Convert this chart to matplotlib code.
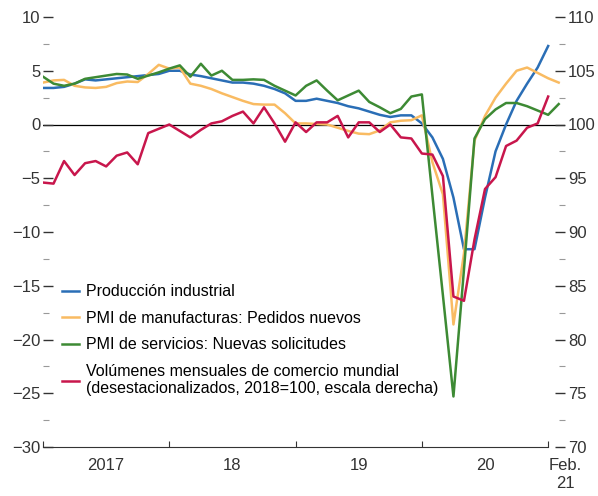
import numpy as np
import matplotlib.pyplot as plt
from matplotlib.ticker import MultipleLocator

plt.rcParams['font.family'] = ['Liberation Sans Narrow', 'Liberation Sans', 'DejaVu Sans']
plt.rcParams['font.size'] = 12

# monthly data, Jan 2017 (index 0) .. Feb 2021 (index 49)
months = np.arange(50)

# Produccion industrial (left scale), through Jan 2021
ind_prod = [3.4, 3.4, 3.5, 3.8, 4.2, 4.1, 4.2, 4.3, 4.4, 4.5, 4.6, 4.7, 5.0, 5.0,
            4.65, 4.5, 4.3, 4.1, 3.9, 3.9, 3.8, 3.6, 3.3, 2.9, 2.2, 2.2, 2.4, 2.2,
            2.0, 1.7, 1.5, 1.2, 0.9, 0.7, 0.85, 0.85, 0.1, -1.2, -3.2, -6.8, -11.6,
            -11.6, -6.8, -2.5, 0.0, 2.2, 3.8, 5.3, 7.3]

# PMI de manufacturas: pedidos nuevos
pmi_manuf = [3.9, 4.1, 4.15, 3.6, 3.45, 3.4, 3.5, 3.85, 4.0, 3.95, 4.7, 5.55, 5.2,
             5.3, 3.8, 3.6, 3.3, 2.9, 2.55, 2.2, 1.9, 1.85, 1.85, 1.05, 0.1, 0.1,
             0.05, 0.0, -0.3, -0.6, -0.85, -0.9, -0.55, 0.2, 0.35, 0.4, 0.85, -3.5,
             -6.5, -18.6, -12.0, -1.5, 0.8, 2.5, 3.8, 5.0, 5.3, 4.8, 4.3, 3.9]

# PMI de servicios: nuevas solicitudes
pmi_serv = [4.45, 3.8, 3.6, 3.8, 4.25, 4.4, 4.55, 4.7, 4.65, 4.25, 4.55, 4.85, 5.2,
            5.5, 4.45, 5.65, 4.55, 5.0, 4.15, 4.15, 4.2, 4.15, 3.6, 3.15, 2.7, 3.6,
            4.1, 3.15, 2.25, 2.7, 3.15, 2.1, 1.6, 1.05, 1.45, 2.6, 2.8, -6.6, -15.9,
            -25.3, -13.5, -1.3, 0.5, 1.4, 2.0, 2.0, 1.7, 1.3, 0.9, 1.9]

# Volumenes mensuales de comercio mundial (2018=100, right scale), through Jan 2021
trade_vol = [94.6, 94.5, 96.6, 95.3, 96.4, 96.6, 96.1, 97.1, 97.4, 96.3, 99.2, 99.6,
             100.0, 99.4, 98.8, 99.5, 100.1, 100.3, 100.8, 101.2, 100.1, 101.6, 100.1,
             98.4, 100.2, 99.3, 100.2, 100.2, 100.8, 98.8, 100.2, 100.2, 99.3, 100.0,
             98.8, 98.7, 97.3, 97.2, 95.2, 84.0, 83.6, 89.3, 94.0, 95.1, 98.0, 98.5,
             99.7, 100.1, 102.6]

year_ticks = [0, 12, 24, 36, 48]
label_pos = [6, 18, 30, 42, 49.6]
label_txt = ['2017', '18', '19', '20', 'Feb.\n21']

labels = ['Producción industrial',
          'PMI de manufacturas: Pedidos nuevos',
          'PMI de servicios: Nuevas solicitudes',
          'Volúmenes mensuales de comercio mundial\n(desestacionalizados, 2018=100, escala derecha)']
colors = ['#2a6eb6', '#f9bb62', '#3d8a34', '#c8164c']

fig = plt.figure(figsize=(5.98, 4.96), dpi=100)
ax = fig.add_axes([43/598, 49/496, 522/598, 430/496])
ax2 = ax.twinx()

l1, = ax.plot(months[:len(ind_prod)], ind_prod, color=colors[0], lw=1.8, label=labels[0])
l2, = ax.plot(months[:len(pmi_manuf)], pmi_manuf, color=colors[1], lw=1.8, label=labels[1])
l3, = ax.plot(months[:len(pmi_serv)], pmi_serv, color=colors[2], lw=1.8, label=labels[2])
l4, = ax2.plot(months[:len(trade_vol)], trade_vol, color=colors[3], lw=1.8, label=labels[3])
ax.axhline(0, color='black', lw=0.9, zorder=1)

ax.set_xlim(0, 49)
ax.set_ylim(-30, 10)
ax2.set_ylim(70, 110)

for s in ['top', 'left', 'right']:
    ax.spines[s].set_visible(False)
for s in ax2.spines.values():
    s.set_visible(False)
ax.spines['bottom'].set_bounds(0, 48)
ax.spines['bottom'].set_color('#333333')

ax.set_yticks(range(-30, 11, 5))
ax.yaxis.set_minor_locator(MultipleLocator(2.5))
ax2.set_yticks(range(70, 111, 5))
ax2.yaxis.set_minor_locator(MultipleLocator(2.5))
ax.tick_params(axis='y', which='major', direction='in', length=7, width=1, pad=2, colors='#333333')
ax.tick_params(axis='y', which='minor', direction='in', length=4, width=0.8, color='#999999')
ax2.tick_params(axis='y', which='major', direction='in', length=7, width=1, pad=2, colors='#333333')
ax2.tick_params(axis='y', which='minor', direction='in', length=4, width=0.8, color='#999999')

ax.set_xticks(year_ticks)
ax.set_xticklabels([])
ax.set_xticks(label_pos, minor=True)
ax.set_xticklabels(label_txt, minor=True)
ax.tick_params(axis='x', which='major', direction='in', length=4, width=0.8, color='#333333')
ax.tick_params(axis='x', which='minor', length=0, pad=8, colors='#333333')

ax.legend(handles=[l1, l2, l3, l4], loc='upper left', bbox_to_anchor=(0.036, 0.378),
          frameon=False, borderaxespad=0, borderpad=0, handlelength=1.1,
          handletextpad=0.4, labelspacing=0.72, fontsize=11.5)

fig.savefig('out.png', dpi=100)
